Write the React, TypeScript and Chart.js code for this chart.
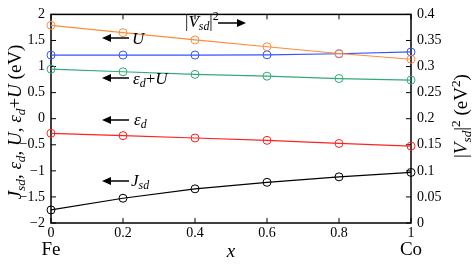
import React, { useEffect, useRef } from "react";
import { Chart, registerables } from "chart.js";

Chart.register(...registerables);

const xValues = [0, 0.2, 0.4, 0.6, 0.8, 1];
const vsd2Values = [0.379, 0.365, 0.351, 0.338, 0.325, 0.314];
const uValues = [1.22, 1.22, 1.22, 1.225, 1.245, 1.28];
const edUValues = [0.95, 0.9, 0.85, 0.815, 0.77, 0.74];
const edValues = [-0.28, -0.325, -0.37, -0.415, -0.475, -0.525];
const jsdValues = [-1.75, -1.525, -1.345, -1.22, -1.115, -1.03];

const FONT = '"Liberation Serif", "Times New Roman", serif';

type Seg = { t: string; i?: boolean; sub?: boolean; sup?: boolean };

function segFont(s: Seg, size: number) {
  const fs = s.sub || s.sup ? size * 0.7 : size;
  return `${s.i ? "italic " : ""}${fs}px ${FONT}`;
}

function richWidth(ctx: CanvasRenderingContext2D, segs: Seg[], size: number) {
  let w = 0;
  for (const s of segs) {
    ctx.font = segFont(s, size);
    w += ctx.measureText(s.t).width;
  }
  return w;
}

function drawRich(
  ctx: CanvasRenderingContext2D,
  segs: Seg[],
  x: number,
  cy: number,
  size: number,
  align: "left" | "center"
) {
  const total = richWidth(ctx, segs, size);
  let cx = align === "center" ? x - total / 2 : x;
  const base = cy + size * 0.33;
  ctx.textAlign = "left";
  ctx.textBaseline = "alphabetic";
  for (const s of segs) {
    ctx.font = segFont(s, size);
    let y = base;
    if (s.sub) y += size * 0.22;
    if (s.sup) y -= size * 0.4;
    ctx.fillText(s.t, cx, y);
    cx += ctx.measureText(s.t).width;
  }
}

function arrow(ctx: CanvasRenderingContext2D, xTail: number, xTip: number, y: number) {
  const dir = xTip > xTail ? 1 : -1;
  const headLen = 9;
  ctx.save();
  ctx.strokeStyle = "#000";
  ctx.fillStyle = "#000";
  ctx.lineWidth = 1.5;
  ctx.beginPath();
  ctx.moveTo(xTail, y);
  ctx.lineTo(xTip - dir * headLen, y);
  ctx.stroke();
  ctx.beginPath();
  ctx.moveTo(xTip, y);
  ctx.lineTo(xTip - dir * headLen, y - 4);
  ctx.lineTo(xTip - dir * headLen, y + 4);
  ctx.closePath();
  ctx.fill();
  ctx.restore();
}

const fmt = (v: any) => String(parseFloat(Number(v).toFixed(4))).replace("-", "\u2212");

const framePlugin = {
  id: "frame",
  beforeDatasetsDraw(chart: any) {
    const { ctx, chartArea: a, scales } = chart;
    ctx.save();
    ctx.strokeStyle = "#000";
    ctx.lineWidth = 1.5;
    ctx.strokeRect(a.left, a.top, a.right - a.left, a.bottom - a.top);
    ctx.lineWidth = 1;
    const tl = 5;
    ctx.beginPath();
    for (const t of scales.x.ticks) {
      const px = scales.x.getPixelForValue(t.value);
      ctx.moveTo(px, a.bottom);
      ctx.lineTo(px, a.bottom - tl);
      ctx.moveTo(px, a.top);
      ctx.lineTo(px, a.top + tl);
    }
    for (const t of scales.y.ticks) {
      const py = scales.y.getPixelForValue(t.value);
      ctx.moveTo(a.left, py);
      ctx.lineTo(a.left + tl, py);
    }
    for (const t of scales.y2.ticks) {
      const py = scales.y2.getPixelForValue(t.value);
      ctx.moveTo(a.right, py);
      ctx.lineTo(a.right - tl, py);
    }
    ctx.stroke();
    ctx.restore();
  },
  afterDraw(chart: any) {
    const { ctx, chartArea: a } = chart;
    ctx.save();
    ctx.fillStyle = "#000";
    ctx.font = `19px ${FONT}`;
    ctx.textAlign = "center";
    ctx.textBaseline = "middle";
    ctx.fillText("Fe", a.left, 250);
    ctx.fillText("Co", a.right, 250);
    ctx.font = `italic 19px ${FONT}`;
    ctx.fillText("x", (a.left + a.right) / 2, 252);

    // left axis title
    ctx.save();
    ctx.translate(15, 122);
    ctx.rotate(-Math.PI / 2);
    drawRich(
      ctx,
      [
        { t: "J", i: true },
        { t: "sd", i: true, sub: true },
        { t: ", " },
        { t: "ε", i: true },
        { t: "d", i: true, sub: true },
        { t: ", " },
        { t: "U", i: true },
        { t: ", " },
        { t: "ε", i: true },
        { t: "d", i: true, sub: true },
        { t: "+" },
        { t: "U", i: true },
        { t: " (eV)" },
      ],
      0,
      0,
      19,
      "center"
    );
    ctx.restore();

    // right axis title
    ctx.save();
    ctx.translate(461, 116);
    ctx.rotate(-Math.PI / 2);
    drawRich(
      ctx,
      [
        { t: "|" },
        { t: "V", i: true },
        { t: "sd", i: true, sub: true },
        { t: "|" },
        { t: "2", sup: true },
        { t: " (eV" },
        { t: "2", sup: true },
        { t: ")" },
      ],
      0,
      0,
      19,
      "center"
    );
    ctx.restore();

    // annotations
    arrow(ctx, 129, 102, 38);
    drawRich(ctx, [{ t: "U", i: true }], 132, 38, 17, "left");
    arrow(ctx, 129, 102, 78);
    drawRich(
      ctx,
      [
        { t: "ε", i: true },
        { t: "d", i: true, sub: true },
        { t: "+" },
        { t: "U", i: true },
      ],
      133,
      78,
      17,
      "left"
    );
    arrow(ctx, 129, 102, 120);
    drawRich(
      ctx,
      [
        { t: "ε", i: true },
        { t: "d", i: true, sub: true },
      ],
      134,
      119,
      17,
      "left"
    );
    arrow(ctx, 129, 102, 181);
    drawRich(
      ctx,
      [
        { t: "J", i: true },
        { t: "sd", i: true, sub: true },
      ],
      131,
      180,
      17,
      "left"
    );
    drawRich(
      ctx,
      [
        { t: "|" },
        { t: "V", i: true },
        { t: "sd", i: true, sub: true },
        { t: "|" },
        { t: "2", sup: true },
      ],
      185,
      21,
      17,
      "left"
    );
    arrow(ctx, 218, 246, 23);
    ctx.restore();
  },
};

function mk(label: string, vals: number[], color: string, axis: string) {
  return {
    label,
    data: xValues.map((x, i) => ({ x, y: vals[i] })),
    borderColor: color,
    backgroundColor: "rgba(0,0,0,0)",
    pointBorderColor: color,
    pointBackgroundColor: "rgba(0,0,0,0)",
    pointRadius: 4,
    pointBorderWidth: 1,
    borderWidth: 1.2,
    yAxisID: axis,
    clip: false as any,
  };
}

export default function App() {
  const ref = useRef<HTMLCanvasElement | null>(null);
  useEffect(() => {
    if (!ref.current) return;
    const tickFont = { family: FONT, size: 14 };
    const chart = new Chart(ref.current, {
      type: "line",
      data: {
        datasets: [
          mk("|Vsd|^2", vsd2Values, "#ff8a3d", "y2"),
          mk("U", uValues, "#3355ff", "y"),
          mk("ed+U", edUValues, "#33aa77", "y"),
          mk("ed", edValues, "#ff2222", "y"),
          mk("Jsd", jsdValues, "#000000", "y"),
        ] as any,
      },
      options: {
        animation: false,
        responsive: false,
        devicePixelRatio: 1,
        layout: { padding: { top: 7, left: 0, right: 0, bottom: 0 } },
        plugins: { legend: { display: false }, tooltip: { enabled: false } },
        scales: {
          x: {
            type: "linear",
            min: 0,
            max: 1,
            ticks: { stepSize: 0.2, font: tickFont, color: "#000", padding: 2, callback: fmt },
            grid: { display: false, drawTicks: false },
            border: { display: false },
            afterFit: (s: any) => {
              s.height = 46;
            },
          },
          y: {
            type: "linear",
            position: "left",
            min: -2,
            max: 2,
            ticks: { stepSize: 0.5, font: tickFont, color: "#000", padding: 6, callback: fmt },
            grid: { display: false, drawTicks: false },
            border: { display: false },
            afterFit: (s: any) => {
              s.width = 51;
            },
          },
          y2: {
            type: "linear",
            position: "right",
            min: 0,
            max: 0.4,
            ticks: { stepSize: 0.05, font: tickFont, color: "#000", padding: 6, callback: fmt },
            grid: { display: false, drawTicks: false },
            border: { display: false },
            afterFit: (s: any) => {
              s.width = 63;
            },
          },
        },
      } as any,
      plugins: [framePlugin],
    });
    return () => chart.destroy();
  }, []);
  return (
    <div style={{ position: "fixed", left: 0, top: 0, width: 474, height: 269, background: "#fff" }}>
      <canvas ref={ref} width={474} height={269} style={{ width: 474, height: 269 }} />
    </div>
  );
}
